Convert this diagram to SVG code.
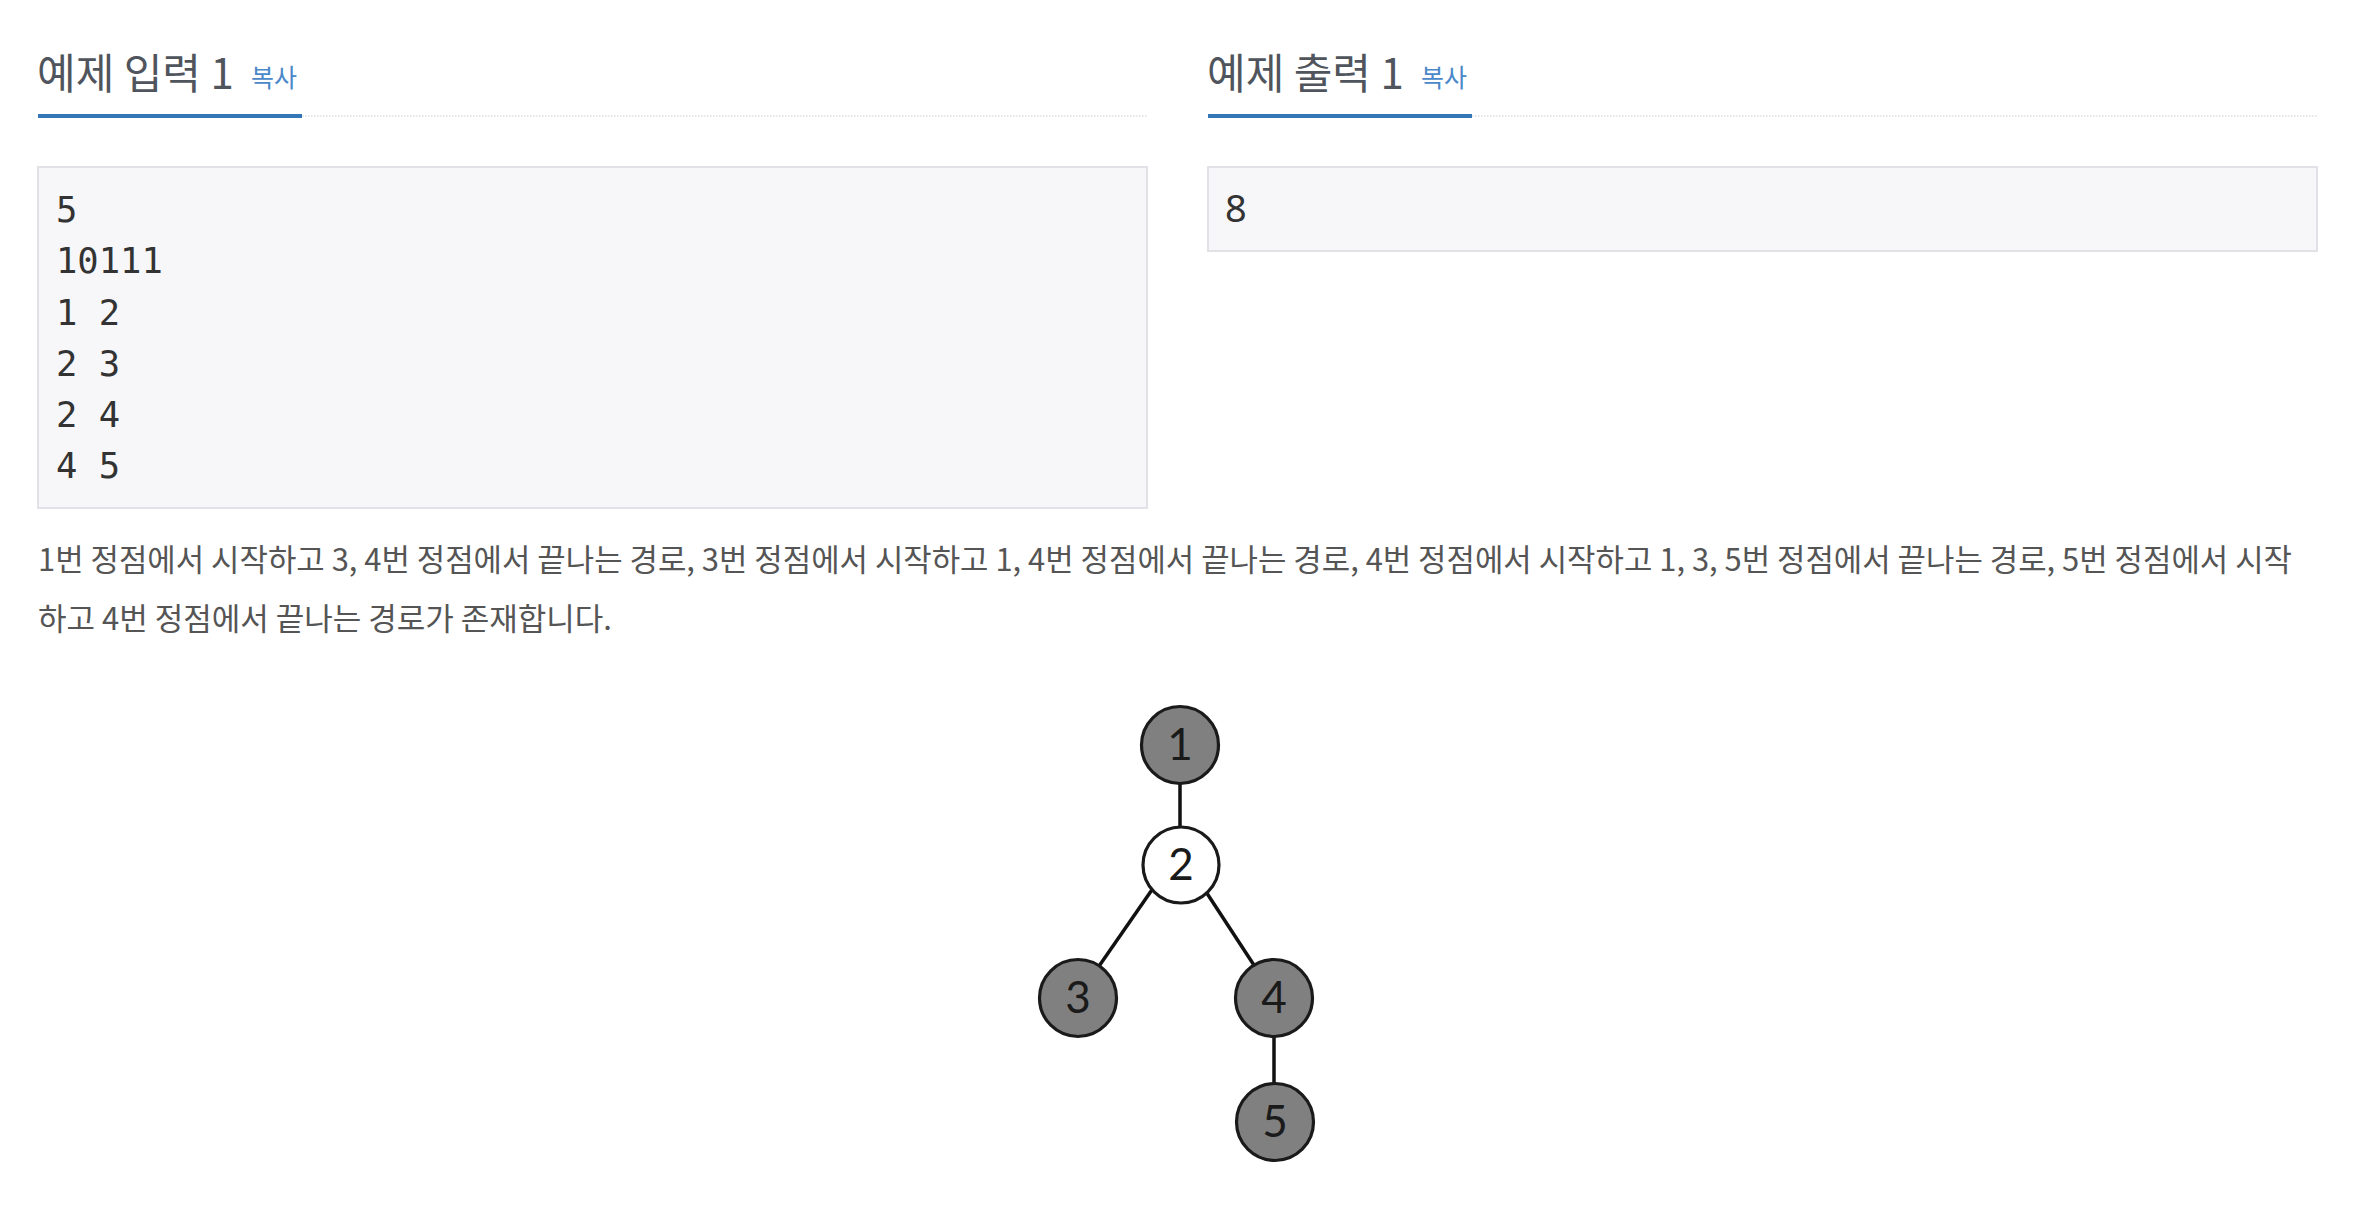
<svg xmlns="http://www.w3.org/2000/svg" width="2364" height="1220" viewBox="0 0 2364 1220">
<style>
.hd{font-family:"Noto Sans CJK KR","Noto Sans",sans-serif;font-size:42px;fill:#50555d}
.cp{font-family:"Noto Sans CJK KR","Noto Sans",sans-serif;font-size:25px;fill:#4a88c9}
.ul{fill:#3377b9}
.dot{stroke:#dedede;stroke-width:1.5;stroke-dasharray:1.5 1.5;fill:none}
.box{fill:#f7f7f9;stroke:#e1e1e8;stroke-width:2}
.pre{font-family:"DejaVu Sans Mono",monospace;font-size:35.5px;fill:#333}
.out{font-family:"Noto Sans","Open Sans",sans-serif;font-size:38px;fill:#333}
.para{font-family:"Noto Sans CJK KR","Noto Sans",sans-serif;font-size:31px;fill:#555}
.edge{stroke:#111;stroke-width:3.5;fill:none}
.nd{stroke:#1a1a1a;stroke-width:3.2}
.dark{fill:#808080}
.light{fill:#ffffff}
.lbl{font-family:Lato,"Open Sans",sans-serif;font-size:44px;fill:#1a1a1a;text-anchor:middle}
</style>
<rect width="2364" height="1220" fill="#ffffff"/>
<g id="input-header">
<text class="hd" x="37" y="89">예제 입력 1</text>
<text class="cp" x="251" y="87">복사</text>
<line class="dot" x1="302" y1="116" x2="1148" y2="116"/>
<rect class="ul" x="38" y="114" width="264" height="4"/>
</g>
<g id="output-header">
<text class="hd" x="1207" y="89">예제 출력 1</text>
<text class="cp" x="1421" y="87">복사</text>
<line class="dot" x1="1472" y1="116" x2="2318" y2="116"/>
<rect class="ul" x="1208" y="114" width="264" height="4"/>
</g>
<g id="input-box">
<rect class="box" x="38" y="167" width="1109" height="341"/>
<text class="pre" x="56" y="222">5</text>
<text class="pre" x="56" y="273">10111</text>
<text class="pre" x="56" y="325">1 2</text>
<text class="pre" x="56" y="376">2 3</text>
<text class="pre" x="56" y="427">2 4</text>
<text class="pre" x="56" y="478">4 5</text>
</g>
<g id="output-box">
<rect class="box" x="1208" y="167" width="1109" height="84"/>
<text class="out" x="1225" y="222">8</text>
</g>
<g id="description">
<text class="para" x="38" y="571" textLength="2254" lengthAdjust="spacingAndGlyphs">1번 정점에서 시작하고 3, 4번 정점에서 끝나는 경로, 3번 정점에서 시작하고 1, 4번 정점에서 끝나는 경로, 4번 정점에서 시작하고 1, 3, 5번 정점에서 끝나는 경로, 5번 정점에서 시작</text>
<text class="para" x="38" y="630">하고 4번 정점에서 끝나는 경로가 존재합니다.</text>
</g>
<g id="connectors">
<line class="edge" x1="1180" y1="770" x2="1180" y2="840"/>
<line class="edge" x1="1165" y1="871" x2="1088" y2="982"/>
<line class="edge" x1="1195" y1="875" x2="1265" y2="982"/>
<line class="edge" x1="1274" y1="1010" x2="1274" y2="1100"/>
</g>
<g id="node-1"><circle class="nd dark" cx="1180" cy="745" r="38.5"/><text class="lbl" x="1180" y="760">1</text></g>
<g id="node-2"><circle class="nd light" cx="1181" cy="865" r="38"/><text class="lbl" x="1181" y="880">2</text></g>
<g id="node-3"><circle class="nd dark" cx="1078" cy="998" r="38.5"/><text class="lbl" x="1078" y="1013">3</text></g>
<g id="node-4"><circle class="nd dark" cx="1274" cy="998" r="38.5"/><text class="lbl" x="1274" y="1013">4</text></g>
<g id="node-5"><circle class="nd dark" cx="1275" cy="1122" r="38.5"/><text class="lbl" x="1275" y="1137">5</text></g>
</svg>
